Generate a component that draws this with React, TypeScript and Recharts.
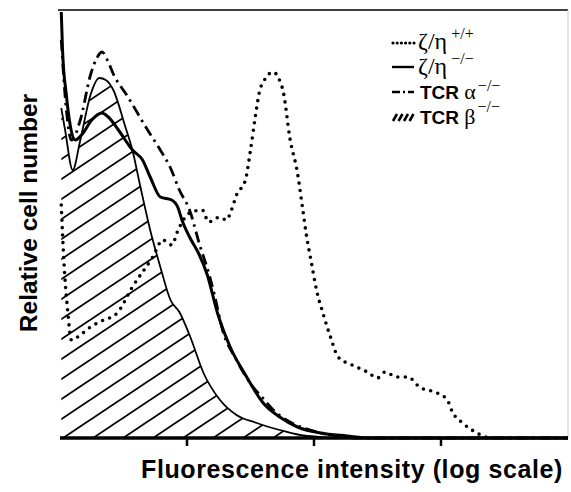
import React from 'react';
import { ComposedChart, Line, Area, XAxis, YAxis, Customized } from 'recharts';

// x = fluorescence in log decades (0-4), y = relative cell number
const zetaEtaWT: [number, number][] = [
  [0.01, 233], [0.03, 178], [0.06, 128], [0.09, 98], [0.16, 103], [0.24, 111],
  [0.31, 116], [0.45, 125], [0.57, 151], [0.73, 181], [0.81, 198], [0.88, 193],
  [0.93, 208], [1.02, 225], [1.12, 228], [1.17, 216], [1.26, 221], [1.31, 218],
  [1.35, 228], [1.39, 243], [1.46, 258], [1.5, 288], [1.54, 323], [1.57, 346],
  [1.61, 358], [1.68, 366], [1.72, 360], [1.76, 345], [1.81, 300], [1.87, 265],
  [1.91, 230], [1.94, 203], [1.98, 175], [2.02, 148], [2.07, 125], [2.13, 101],
  [2.19, 81], [2.3, 73], [2.42, 66], [2.5, 60], [2.56, 66], [2.65, 61],
  [2.74, 61], [2.83, 51], [2.97, 45], [3.05, 38], [3.09, 26], [3.17, 15],
  [3.27, 6], [3.35, 1], [3.39, 0],
];

const zetaEtaKO: [number, number][] = [
  [0.01, 426], [0.02, 388], [0.05, 343], [0.08, 313], [0.12, 298], [0.17, 303],
  [0.25, 318], [0.33, 325], [0.38, 321], [0.46, 308], [0.57, 288], [0.65, 278],
  [0.71, 261], [0.79, 241], [0.88, 238], [0.93, 230], [0.96, 218], [1.02, 201],
  [1.09, 185], [1.16, 163], [1.24, 125], [1.34, 91], [1.47, 61], [1.6, 35],
  [1.73, 21], [1.87, 11], [2.05, 5], [2.26, 2], [2.44, 0], [4, 0],
];

const tcrAlphaKO: [number, number][] = [
  [0.01, 398], [0.05, 328], [0.09, 298], [0.16, 318], [0.24, 363], [0.29, 380],
  [0.33, 386], [0.38, 376], [0.42, 364], [0.53, 342], [0.69, 308], [0.79, 288],
  [0.87, 270], [0.94, 248], [1.02, 228], [1.1, 193], [1.18, 161], [1.22, 141],
  [1.28, 108], [1.39, 78], [1.52, 51], [1.59, 41], [1.68, 28], [1.81, 16],
  [1.97, 8], [2.13, 3], [2.32, 0], [4, 0],
];

const tcrBetaKO: [number, number][] = [
  [0.01, 330], [0.04, 308], [0.1, 268], [0.16, 298], [0.24, 343], [0.31, 360],
  [0.36, 358], [0.42, 348], [0.51, 313], [0.57, 288], [0.63, 253], [0.71, 208],
  [0.79, 171], [0.87, 138], [0.94, 126], [1.02, 103], [1.13, 65], [1.26, 38],
  [1.39, 23], [1.55, 15], [1.73, 8], [1.89, 3], [2.05, 1], [2.2, 0], [4, 0],
];

const xTicks = [1, 2, 3];

const seriesByKey: Record<string, [number, number][]> = {
  wt: zetaEtaWT,
  ko: zetaEtaKO,
  alpha: tcrAlphaKO,
  beta: tcrBetaKO,
};

// merge the four histograms into one table keyed by x
const rowMap = new Map<number, any>();
Object.entries(seriesByKey).forEach(([key, pts]) => {
  pts.forEach(([x, y]) => {
    const row = rowMap.get(x) || { x };
    row[key] = y;
    rowMap.set(x, row);
  });
});
const data = Array.from(rowMap.values()).sort((a, b) => a.x - b.x);

const serif = '"Liberation Serif", "DejaVu Serif", serif';
const sans = '"Liberation Sans", Arial, sans-serif';

const Overlay = () => (
  <g>
    {/* frame: top and right edges */}
    <line x1={58} y1={10} x2={568} y2={10} stroke="#000" strokeWidth={1.6} />
    <line x1={568} y1={10} x2={568} y2={438} stroke="#c8c8c8" strokeWidth={1} />

    {/* legend */}
    <line x1={393} y1={43} x2={414} y2={43} stroke="#000" strokeWidth={3.2}
      strokeDasharray="0 4.2" strokeLinecap="round" />
    <text x={418} y={49} fontFamily={serif} fontSize={24}>
      ζ/η<tspan dx={4} dy={-10} fontSize={16}>+/+</tspan>
    </text>

    <line x1={392} y1={67} x2={414} y2={67} stroke="#000" strokeWidth={2.4} />
    <text x={418} y={74} fontFamily={serif} fontSize={24}>
      ζ/η<tspan dx={4} dy={-10} fontSize={16}>−/−</tspan>
    </text>

    <line x1={392} y1={92} x2={414} y2={92} stroke="#000" strokeWidth={2.4}
      strokeDasharray="8 3 2 3" />
    <text x={420} y={99} fontFamily={sans} fontWeight="bold" fontSize={19}>
      TCR <tspan fontFamily={serif} fontWeight="normal" fontSize={22}>α</tspan>
      <tspan dx={2} dy={-8} fontFamily={serif} fontWeight="normal" fontSize={16}>−/−</tspan>
    </text>

    {[0, 1, 2, 3].map((i) => (
      <line key={i} x1={393 + i * 5.5} y1={121} x2={397 + i * 5.5} y2={114}
        stroke="#000" strokeWidth={2.6} />
    ))}
    <text x={420} y={124} fontFamily={sans} fontWeight="bold" fontSize={19}>
      TCR <tspan fontFamily={serif} fontWeight="normal" fontSize={22}>β</tspan>
      <tspan dx={2} dy={-12} fontFamily={serif} fontWeight="normal" fontSize={16}>−/−</tspan>
    </text>

    {/* axis titles */}
    <text transform="translate(37,213) rotate(-90)" textAnchor="middle"
      fontFamily={sans} fontWeight="bold" fontSize={24.5}>
      Relative cell number
    </text>
    <text x={352} y={478} textAnchor="middle" fontFamily={sans} fontWeight="bold"
      fontSize={25} letterSpacing={0.6}>
      Fluorescence intensity (log scale)
    </text>
  </g>
);

export default function App() {
  return (
    <div style={{ position: 'absolute', left: 0, top: 0, background: '#fff' }}>
      <ComposedChart width={571} height={492} data={data}
        margin={{ top: 10, right: 3, bottom: 24, left: 60 }}>
        <defs>
          <pattern id="hatch" patternUnits="userSpaceOnUse" width={30} height={20}>
            <path d="M-3,2 L3,-2 M-3,22 L33,-2 M27,22 L33,18" stroke="#000" strokeWidth={1.8} />
          </pattern>
        </defs>
        <XAxis dataKey="x" type="number" domain={[0, 4]} ticks={xTicks}
          tickFormatter={() => ''} height={30} tickSize={8}
          axisLine={{ stroke: '#000', strokeWidth: 3.5 }}
          tickLine={{ stroke: '#000', strokeWidth: 2.5 }} />
        <YAxis type="number" domain={[0, 428]} width={0} tick={false} tickLine={false}
          axisLine={{ stroke: '#000', strokeWidth: 4 }} />
        <Area dataKey="beta" type="monotone" connectNulls baseValue={0}
          fill="url(#hatch)" fillOpacity={1} stroke="#000" strokeWidth={1.8}
          dot={false} activeDot={false} isAnimationActive={false} />
        <Line dataKey="wt" type="monotone" connectNulls stroke="#000" strokeWidth={3.6}
          strokeDasharray="0 7.5" strokeLinecap="round"
          dot={false} activeDot={false} isAnimationActive={false} />
        <Line dataKey="alpha" type="monotone" connectNulls stroke="#000" strokeWidth={2.8}
          strokeDasharray="11 5 2.5 5"
          dot={false} activeDot={false} isAnimationActive={false} />
        <Line dataKey="ko" type="monotone" connectNulls stroke="#000" strokeWidth={3}
          dot={false} activeDot={false} isAnimationActive={false} />
        <Customized component={Overlay} />
      </ComposedChart>
    </div>
  );
}
